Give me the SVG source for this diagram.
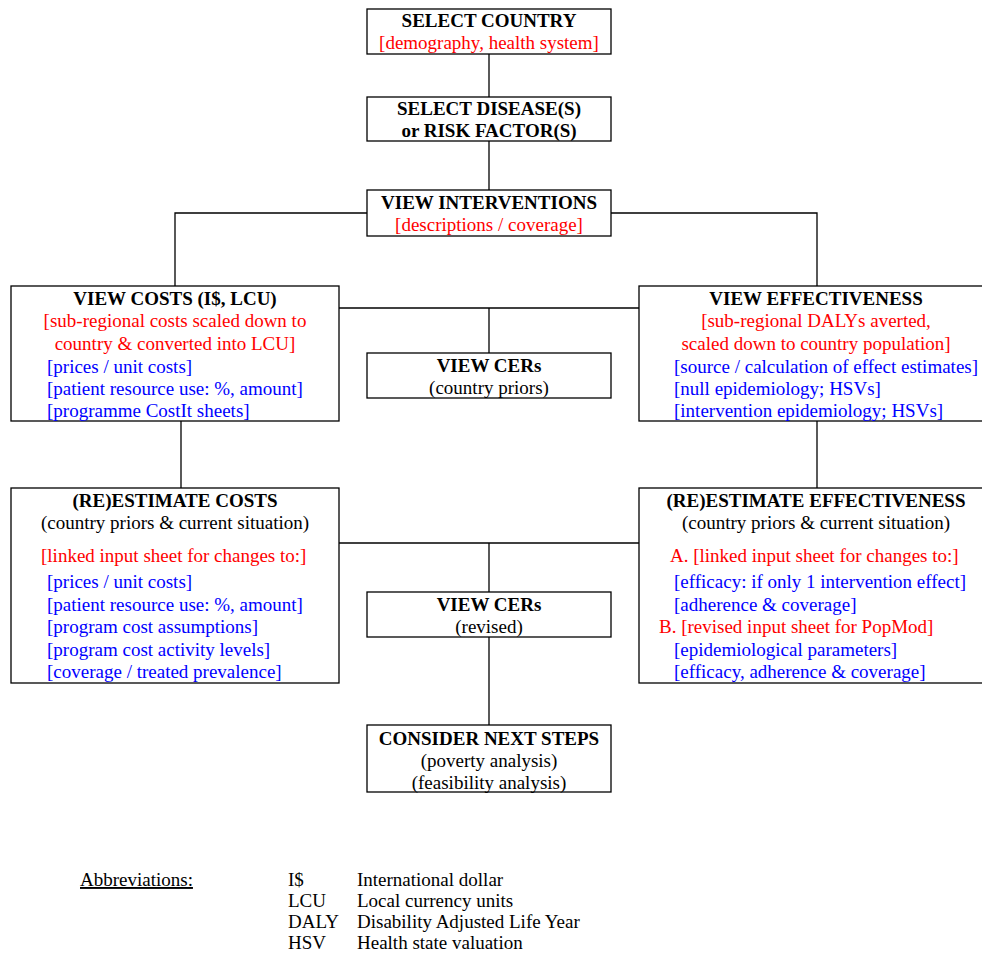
<svg xmlns="http://www.w3.org/2000/svg" width="982" height="954" viewBox="0 0 982 954">
<style>
text{font-family:"Liberation Serif","Times New Roman",serif;font-size:19px;fill:#000}
.b{font-weight:bold}
.c{text-anchor:middle}
.r{fill:#ff0000}
.u{fill:#0000ff}
.box{fill:#fff;stroke:#000;stroke-width:1.3}
.ln{fill:none;stroke:#000;stroke-width:1.3}
</style>
<rect width="982" height="954" fill="#fff"/>
<g id="connectors">
<line class="ln" x1="489" y1="54" x2="489" y2="97"/>
<line class="ln" x1="489" y1="141" x2="489" y2="190"/>
<polyline class="ln" points="367,213 175,213 175,286"/>
<polyline class="ln" points="611,213 817,213 817,286"/>
<line class="ln" x1="339" y1="308" x2="639" y2="308"/>
<line class="ln" x1="489" y1="308" x2="489" y2="353"/>
<line class="ln" x1="181" y1="421" x2="181" y2="488"/>
<line class="ln" x1="817" y1="421" x2="817" y2="488"/>
<line class="ln" x1="339" y1="543" x2="639" y2="543"/>
<line class="ln" x1="489" y1="543" x2="489" y2="592"/>
<line class="ln" x1="489" y1="637" x2="489" y2="725"/>
</g>
<g id="select-country">
<rect class="box" x="367" y="9" width="244" height="45"/>
<text class="b c" x="489" y="27">SELECT COUNTRY</text>
<text class="c r" x="489" y="49">[demography, health system]</text>
</g>
<g id="select-disease">
<rect class="box" x="367" y="97" width="244" height="44"/>
<text class="b c" x="489" y="115">SELECT DISEASE(S)</text>
<text class="b c" x="489" y="137">or RISK FACTOR(S)</text>
</g>
<g id="view-interventions">
<rect class="box" x="367" y="190" width="244" height="46"/>
<text class="b c" x="489" y="209">VIEW INTERVENTIONS</text>
<text class="c r" x="489" y="231">[descriptions / coverage]</text>
</g>
<g id="view-costs">
<rect class="box" x="11" y="286" width="328" height="135"/>
<text class="b c" x="175" y="305">VIEW COSTS (I$, LCU)</text>
<text class="c r" x="175" y="327">[sub-regional costs scaled down to</text>
<text class="c r" x="175" y="350">country &amp; converted into LCU]</text>
<text class="u" x="47" y="373">[prices / unit costs]</text>
<text class="u" x="47" y="395">[patient resource use: %, amount]</text>
<text class="u" x="47" y="417">[programme CostIt sheets]</text>
</g>
<g id="view-effectiveness">
<rect class="box" x="639" y="286" width="360" height="135"/>
<text class="b c" x="816" y="305">VIEW EFFECTIVENESS</text>
<text class="c r" x="816" y="327">[sub-regional DALYs averted,</text>
<text class="c r" x="816" y="350">scaled down to country population]</text>
<text class="u" x="674" y="373">[source / calculation of effect estimates]</text>
<text class="u" x="674" y="395">[null epidemiology; HSVs]</text>
<text class="u" x="674" y="417">[intervention epidemiology; HSVs]</text>
</g>
<g id="view-cers-priors">
<rect class="box" x="367" y="353" width="244" height="45"/>
<text class="b c" x="489" y="372">VIEW CERs</text>
<text class="c" x="489" y="394">(country priors)</text>
</g>
<g id="reestimate-costs">
<rect class="box" x="11" y="488" width="328" height="195"/>
<text class="b c" x="175" y="507">(RE)ESTIMATE COSTS</text>
<text class="c" x="175" y="529">(country priors &amp; current situation)</text>
<text class="r" x="41" y="562">[linked input sheet for changes to:]</text>
<text class="u" x="47" y="588">[prices / unit costs]</text>
<text class="u" x="47" y="611">[patient resource use: %, amount]</text>
<text class="u" x="47" y="633">[program cost assumptions]</text>
<text class="u" x="47" y="656">[program cost activity levels]</text>
<text class="u" x="47" y="678">[coverage / treated prevalence]</text>
</g>
<g id="reestimate-effectiveness">
<rect class="box" x="639" y="488" width="360" height="195"/>
<text class="b c" x="816" y="507">(RE)ESTIMATE EFFECTIVENESS</text>
<text class="c" x="816" y="529">(country priors &amp; current situation)</text>
<text class="r" x="670" y="562">A. [linked input sheet for changes to:]</text>
<text class="u" x="674" y="588">[efficacy: if only 1 intervention effect]</text>
<text class="u" x="674" y="611">[adherence &amp; coverage]</text>
<text class="r" x="659" y="633">B. [revised input sheet for PopMod]</text>
<text class="u" x="674" y="656">[epidemiological parameters]</text>
<text class="u" x="674" y="678">[efficacy, adherence &amp; coverage]</text>
</g>
<g id="view-cers-revised">
<rect class="box" x="367" y="592" width="244" height="45"/>
<text class="b c" x="489" y="611">VIEW CERs</text>
<text class="c" x="489" y="633">(revised)</text>
</g>
<g id="consider-next-steps">
<rect class="box" x="367" y="725" width="244" height="67"/>
<text class="b c" x="489" y="745">CONSIDER NEXT STEPS</text>
<text class="c" x="489" y="767">(poverty analysis)</text>
<text class="c" x="489" y="789">(feasibility analysis)</text>
</g>
<g id="abbreviations">
<text x="80" y="886" text-decoration="underline">Abbreviations:</text>
<text x="288" y="886">I$</text>
<text x="357" y="886">International dollar</text>
<text x="288" y="907">LCU</text>
<text x="357" y="907">Local currency units</text>
<text x="288" y="928">DALY</text>
<text x="357" y="928">Disability Adjusted Life Year</text>
<text x="288" y="949">HSV</text>
<text x="357" y="949">Health state valuation</text>
</g>
</svg>
